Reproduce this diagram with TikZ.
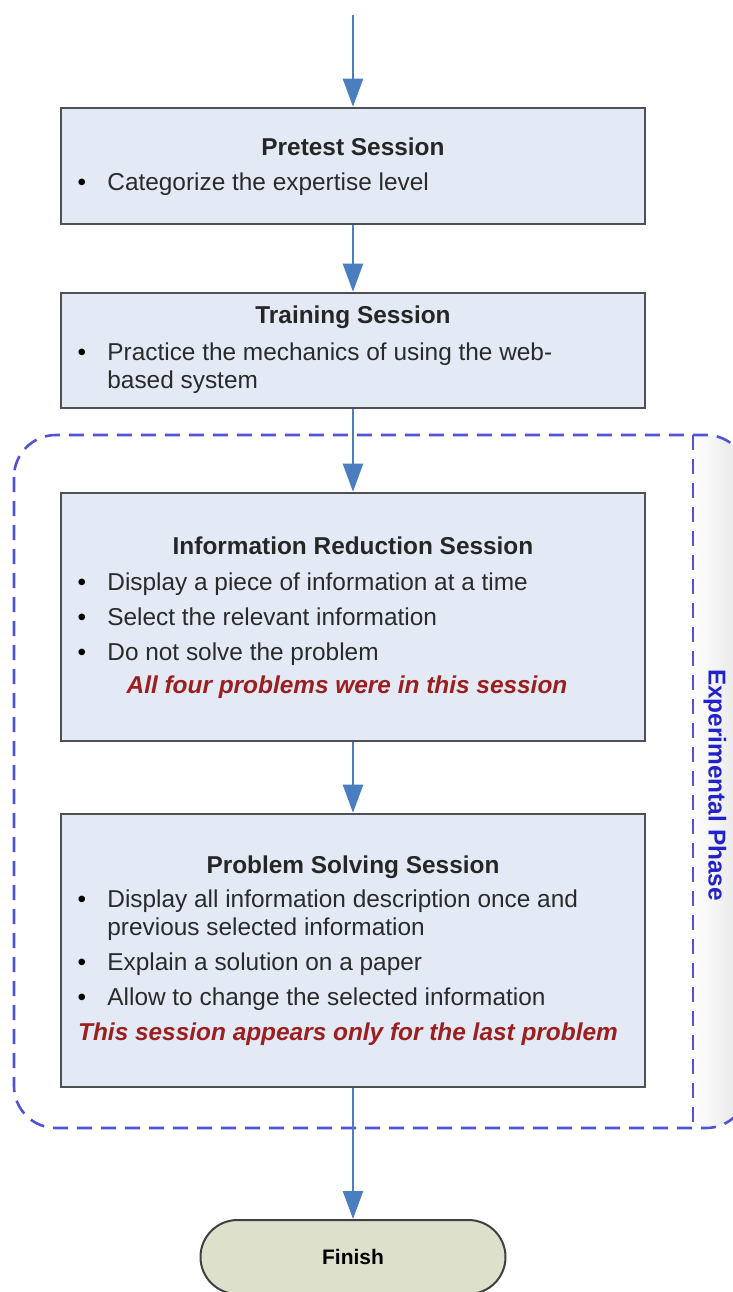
\documentclass[tikz,border=0pt]{standalone}
\usepackage{fontspec}
\setmainfont{Liberation Sans}
\usetikzlibrary{arrows.meta}

\definecolor{boxfill}{HTML}{E4EAF5}
\definecolor{boxline}{HTML}{505050}
\definecolor{flow}{HTML}{4A7EC0}
\definecolor{phase}{HTML}{5252D6}
\definecolor{phasetext}{HTML}{2222CC}
\definecolor{note}{HTML}{9B1F1F}
\definecolor{endfill}{HTML}{DDE1CC}
\definecolor{bodytext}{HTML}{2A2A2A}

\begin{document}
\begin{tikzpicture}[x=0.5pt,y=-0.5pt,
  sessbox/.style={draw=boxline, line width=1.3pt, fill=boxfill,
                  minimum width=292pt, inner sep=0pt},
  flowarrow/.style={draw=flow, line width=1.2pt,
                    -{Triangle[length=14pt,width=10pt]}},
  boxtitle/.style={anchor=base, inner sep=0pt,
                   font=\fontsize{12.2pt}{14pt}\selectfont\bfseries, text=black!85},
  item/.style={anchor=base west, inner sep=0pt,
               font=\fontsize{12.2pt}{14pt}\selectfont, text=bodytext},
  bulletmark/.style={anchor=base, inner sep=0pt,
                     font=\fontsize{12.2pt}{14pt}\selectfont, text=black},
  remark/.style={anchor=base, inner sep=0pt,
                 font=\fontsize{12.2pt}{14pt}\selectfont\bfseries\itshape, text=note},
  lane/.style={draw=phase, line width=1.3pt, dash pattern=on 7.5pt off 4.5pt},
]
\useasboundingbox (0,0) rectangle (733,1292);

% experimental phase frame with its side lane
\begin{scope}
  \clip[rounded corners=21pt] (14,435) rectangle (748,1128);
  \shade[left color=white, right color=black!11] (693,435) rectangle (748,1128);
\end{scope}
\draw[lane, rounded corners=21pt] (14,435) rectangle (748,1128);
\draw[lane] (693,435) -- (693,1128);
\node[rotate=-90, inner sep=0pt, text=phasetext,
      font=\fontsize{12.2pt}{14pt}\selectfont\bfseries] (phaselabel) at (715,785) {Experimental Phase};

% session boxes
\node[sessbox, minimum height=58pt]   (pre)   at (353,166)   {};
\node[sessbox, minimum height=57.5pt] (train) at (353,350.5) {};
\node[sessbox, minimum height=124pt]  (info)  at (353,617)   {};
\node[sessbox, minimum height=136.5pt] (prob) at (353,950.5) {};
\node[draw=black!75, line width=1pt, fill=endfill, rounded corners=18.5pt,
      minimum width=152.5pt, minimum height=37pt, inner sep=0pt,
      font=\fontsize{10.5pt}{12pt}\selectfont\bfseries] (fin) at (353,1257) {Finish};

% pretest
\node[boxtitle] (preT) at (353,155) {Pretest Session};
\node[bulletmark] (preB1) at (82,190) {•};
\node[item] (preL1) at (107,190) {Categorize the expertise level};

% training
\node[boxtitle] (trainT) at (353,323) {Training Session};
\node[bulletmark] (trainB1) at (82,360) {•};
\node[item] (trainL1) at (107,360) {Practice the mechanics of using the web-};
\node[item] (trainL2) at (107,388) {based system};

% information reduction
\node[boxtitle] (infoT) at (353,554) {Information Reduction Session};
\node[bulletmark] (infoB1) at (82,590) {•};
\node[item] (infoL1) at (107,590) {Display a piece of information at a time};
\node[bulletmark] (infoB2) at (82,625) {•};
\node[item] (infoL2) at (107,625) {Select the relevant information};
\node[bulletmark] (infoB3) at (82,660) {•};
\node[item] (infoL3) at (107,660) {Do not solve the problem};
\node[remark] (infoR) at (347,693) {All four problems were in this session};

% problem solving
\node[boxtitle] (probT) at (353,873) {Problem Solving Session};
\node[bulletmark] (probB1) at (82,907) {•};
\node[item] (probL1) at (107,907) {Display all information description once and};
\node[item] (probL1b) at (107,935) {previous selected information};
\node[bulletmark] (probB2) at (82,970) {•};
\node[item] (probL2) at (107,970) {Explain a solution on a paper};
\node[bulletmark] (probB3) at (82,1005) {•};
\node[item] (probL3) at (107,1005) {Allow to change the selected information};
\node[remark] (probR) at (348,1040) {This session appears only for the last problem};

% flow
\coordinate (start) at (353,15);
\draw[flowarrow] (start) -- (pre);
\draw[flowarrow] (pre) -- (train);
\draw[flowarrow] (train) -- (info);
\draw[flowarrow] (info) -- (prob);
\draw[flowarrow] (prob) -- (fin);
\end{tikzpicture}
\end{document}
